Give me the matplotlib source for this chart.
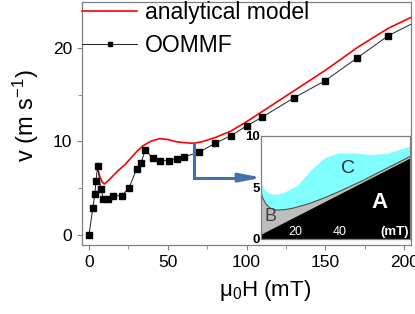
import matplotlib
matplotlib.use("Agg")
import matplotlib.pyplot as plt
from matplotlib.ticker import MultipleLocator

plt.rcParams['font.family'] = ['Liberation Sans', 'DejaVu Sans']
plt.rcParams['mathtext.fontset'] = 'custom'
plt.rcParams['mathtext.rm'] = 'Liberation Sans'
plt.rcParams['mathtext.it'] = 'Liberation Sans:italic'

# analytical model (red)
H_model = [5.7, 7, 8.5, 9.7, 12.3, 15.4, 18.6, 22.8, 27, 30.2, 34.4, 39.7, 45, 50.3, 54.5,
           58.7, 66, 71.4, 79.9, 90, 100, 110, 120, 130, 140, 150, 160, 170, 180, 190, 205]
v_model = [7.0, 6.2, 5.65, 5.45, 5.8, 6.35, 6.9, 7.5, 8.3, 8.9, 9.55, 10.05, 10.3, 10.2, 10.0,
           9.9, 9.8, 9.95, 10.4, 11.1, 12.1, 13.2, 14.3, 15.4, 16.5, 17.6, 18.8, 20.0, 21.05, 22.1, 23.3]

# OOMMF simulation (black squares)
H_sim = [0, 2.5, 3.75, 4.5, 5.5, 7.5, 9.2, 12, 15.4, 20.7, 25.4, 30.2, 33, 35.7, 40.4, 45.4,
         50.5, 55.6, 60.4, 70, 80, 90, 100, 110, 130, 150, 170, 190, 210]
v_sim = [0, 2.9, 4.35, 5.8, 7.35, 4.95, 3.85, 3.9, 4.2, 4.2, 5.0, 7.05, 7.65, 9.1, 8.2, 7.95,
         7.95, 8.1, 8.35, 8.85, 9.8, 10.6, 11.65, 12.6, 14.65, 16.5, 18.9, 21.3, 23.0]

# inset: phase diagram boundaries
H_A = [4.3, 71.6]
v_A = [0.4, 7.8]
H_B = [4.3, 5, 6.5, 8.4, 11.4, 15, 18.9, 26.5, 33, 40, 50, 60, 72]
v_B = [4.6, 4.0, 3.4, 3.0, 2.8, 2.85, 3.0, 3.47, 4.0, 4.65, 5.65, 6.75, 8.05]
H_C = [4.3, 5.5, 7, 9.5, 12, 16, 21.2, 27.2, 33.2, 39.2, 46.8, 54.3, 61.8, 71.6]
v_C = [5.45, 4.95, 4.55, 4.3, 4.3, 4.6, 5.24, 6.7, 7.83, 8.3, 8.3, 8.15, 8.3, 8.96]

spine_gray = '#808080'
arrow_blue = '#4670a8'

fig = plt.figure(figsize=(4.15, 3.14), dpi=100)
ax = fig.add_axes([0.1976, 0.2197, 0.7928, 0.7739])

ax.plot(H_model, v_model, color='red', lw=1.2, label='analytical model', zorder=3)
ax.plot(H_sim, v_sim, color='#202020', lw=0.7, marker='s', ms=4.2, mfc='black', mec='black',
        label='OOMMF', zorder=4)

ax.set_xlim(-4.4, 204.4)
ax.set_ylim(-1.07, 24.9)
ax.xaxis.set_major_locator(MultipleLocator(50))
ax.xaxis.set_minor_locator(MultipleLocator(25))
ax.yaxis.set_major_locator(MultipleLocator(10))
ax.yaxis.set_minor_locator(MultipleLocator(5))
ax.tick_params(which='both', direction='out', color=spine_gray, labelsize=12.5)
ax.tick_params(which='major', length=3.5)
ax.tick_params(which='minor', length=2.8)
for s in ax.spines.values():
    s.set_color(spine_gray)
    s.set_linewidth(0.9)

ax.set_xlabel(r'$\mathregular{\mu_0}$H (mT)', fontsize=16)
ax.xaxis.set_label_coords(0.556, -0.135)
ax.set_ylabel(r'v (m s$^{\mathregular{-1}}$)', fontsize=17)
ax.yaxis.set_label_coords(-0.125, 0.53)

ax.legend(loc='upper left', bbox_to_anchor=(0.0, 1.005), frameon=False, fontsize=16.5,
          borderaxespad=0, borderpad=0, handlelength=2.4, handletextpad=0.35,
          labelspacing=0.45, markerscale=0.6)

# arrow pointing to inset
ax.plot([66.6, 66.6, 100], [9.8, 6.13, 6.13], color=arrow_blue, lw=2.2,
        solid_joinstyle='miter', solid_capstyle='butt', zorder=5)
ax.annotate('', xy=(110, 6.13), xytext=(95, 6.13),
            arrowprops=dict(arrowstyle='-|>,head_length=1.3,head_width=0.25',
                            color=arrow_blue, lw=2.2, shrinkA=0, shrinkB=0), zorder=5)

# inset
ins = fig.add_axes([0.629, 0.2389, 0.359, 0.328])
ins.fill(H_C + [H_C[-1], H_C[0]], v_C + [0, 0], color='#80ffff', lw=0)
ins.fill(H_B + [H_B[-1], H_B[0]], v_B + [0, 0], color='#bdbdbd', lw=0)
ins.plot(H_B, v_B, color='#505050', lw=0.8)
ins.fill(H_A + [H_A[-1], H_A[0]], v_A + [0, 0], color='black', lw=0)
ins.set_xlim(4.3, 71.6)
ins.set_ylim(0, 10)
ins.set_xticks([20, 40])
ins.set_yticks([0, 5, 10])
ins.tick_params(axis='x', direction='in', length=0, pad=-9, labelcolor='white', labelsize=9)
ins.tick_params(axis='y', direction='in', length=0, pad=0.5, labelsize=9.5)
for lab in ins.get_yticklabels():
    lab.set_fontweight('bold')
for lab in ins.get_xticklabels():
    lab.set_verticalalignment('top')
for s in ins.spines.values():
    s.set_color(spine_gray)
    s.set_linewidth(0.9)
ins.text(43.7, 6.86, 'C', color='#303030', fontsize=14, ha='center', va='center')
ins.text(57.6, 3.54, 'A', color='white', fontsize=16, fontweight='bold', ha='center', va='center')
ins.text(8.6, 2.18, 'B', color='#404040', fontsize=13, ha='center', va='center')
ins.text(0.99, 0.068, '(mT)', color='white', fontsize=9.5, fontweight='bold',
         ha='right', va='center', transform=ins.transAxes)

fig.savefig('out.png', dpi=100)
